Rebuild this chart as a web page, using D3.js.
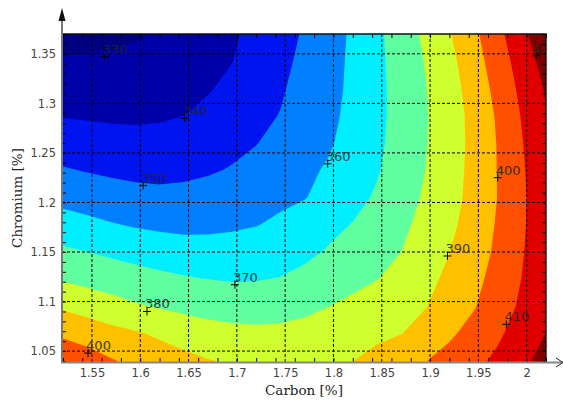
<!DOCTYPE html>
<html>
<head>
<meta charset="utf-8">
<script src="https://cdn.jsdelivr.net/npm/d3@7"></script>
<style>
    body { margin: 0; background: #fff; }
    .tick text { font-family: "DejaVu Sans", sans-serif; font-size: 11.5px; fill: #444; }
    .title { font-family: "DejaVu Serif", serif; font-size: 13.5px; fill: #222; }
    .clabel { font-family: "DejaVu Sans", sans-serif; font-size: 13px; fill: #222; opacity: 0.85; }
</style>
</head>
<body>
<div id="container"></div>
<script>
// grid of the response surface
const carbon = [1.52, 1.545, 1.57, 1.595, 1.62, 1.645, 1.67, 1.695, 1.72, 1.745, 1.77,
    1.795, 1.82, 1.845, 1.87, 1.895, 1.92, 1.945, 1.97, 1.995, 2.02];
const chromium = [1.04, 1.0675, 1.095, 1.1225, 1.15, 1.1775, 1.205, 1.2325, 1.26, 1.2875, 1.315, 1.3425, 1.37];

// one row per chromium value (bottom to top), one column per carbon value
const response = [
    [407.5, 404.8, 400.8, 397.7, 395.3, 392.9, 390.5, 389.0, 388.5, 388.3, 388.8, 389.4, 389.9, 392.9, 396.3, 399.7, 403.5, 407.5, 411.9, 417.5, 424.0],
    [398.4, 395.7, 393.0, 391.1, 388.5, 385.8, 383.6, 382.6, 382.1, 382.3, 383.2, 384.9, 386.5, 388.2, 389.8, 394.0, 398.5, 403.4, 408.5, 414.3, 420.2],
    [388.7, 386.3, 383.7, 381.1, 379.3, 377.8, 376.7, 376.0, 375.8, 376.3, 377.8, 379.9, 382.3, 384.7, 387.1, 389.6, 394.2, 399.3, 405.3, 411.6, 418.8],
    [379.2, 377.3, 375.5, 373.9, 372.4, 371.0, 370.0, 369.3, 369.6, 370.4, 372.6, 375.0, 377.4, 379.8, 383.5, 387.5, 391.9, 397.3, 403.4, 410.2, 418.0],
    [371.8, 370.1, 368.4, 366.7, 365.1, 364.0, 363.6, 363.8, 364.6, 365.9, 367.9, 370.9, 373.9, 377.0, 380.0, 384.9, 389.9, 395.6, 401.7, 409.2, 417.3],
    [364.1, 362.4, 360.6, 359.2, 358.2, 357.7, 358.0, 358.7, 359.7, 361.5, 364.2, 367.5, 370.4, 374.2, 378.1, 382.6, 387.9, 394.1, 400.9, 408.6, 417.0],
    [357.1, 355.7, 354.3, 353.1, 352.4, 352.6, 353.4, 354.6, 356.3, 358.3, 359.6, 363.0, 367.0, 371.2, 376.1, 381.1, 386.6, 392.9, 400.2, 408.3, 417.0],
    [350.8, 349.5, 348.4, 347.6, 347.4, 348.0, 349.1, 350.6, 352.9, 355.6, 358.2, 361.0, 365.1, 369.2, 374.4, 380.0, 386.0, 392.5, 400.3, 408.8, 417.5],
    [345.1, 344.1, 343.3, 342.7, 342.9, 344.0, 345.6, 347.7, 349.7, 353.0, 356.3, 359.0, 363.3, 368.2, 373.6, 379.4, 385.6, 392.3, 400.5, 409.5, 418.5],
    [339.5, 339.1, 338.7, 338.6, 339.0, 340.0, 342.1, 344.9, 347.9, 350.3, 354.7, 357.9, 362.4, 367.7, 373.4, 379.2, 385.5, 392.6, 401.2, 410.6, 419.5],
    [335.3, 335.2, 335.2, 335.4, 336.3, 337.8, 339.3, 342.2, 346.1, 349.0, 353.2, 357.1, 361.9, 367.6, 373.5, 379.6, 386.2, 393.8, 403.0, 412.3, 421.0],
    [331.0, 331.4, 331.7, 332.2, 333.5, 335.6, 337.7, 339.8, 344.2, 347.8, 352.0, 356.6, 361.7, 367.8, 374.0, 380.4, 387.4, 395.7, 405.0, 414.4, 424.0],
    [325.5, 326.7, 327.9, 329.1, 330.8, 333.4, 336.1, 338.8, 342.4, 346.6, 350.9, 356.0, 361.4, 368.0, 374.8, 381.8, 389.3, 397.8, 407.2, 417.4, 428.0]
];

const levels = [330, 340, 350, 360, 370, 380, 390, 400, 410, 420];
const bandColors = ["#000080", "#0000a8", "#0014f0", "#0080ff", "#00eeff", "#60ffa0",
    "#d0ff30", "#ffc000", "#ff5000", "#e00000", "#800000"];

// contour labels (level, position of the + marker)
const labelLevel = [330, 340, 350, 360, 370, 380, 390, 400, 400, 410, 420];
const labelCarbon = [1.563, 1.646, 1.603, 1.794, 1.698, 1.607, 1.918, 1.546, 1.970, 1.979, 2.010];
const labelChromium = [1.347, 1.285, 1.217, 1.239, 1.117, 1.090, 1.146, 1.048, 1.225, 1.077, 1.348];

const xTicks = [1.55, 1.6, 1.65, 1.7, 1.75, 1.8, 1.85, 1.9, 1.95, 2];
const yTicks = [1.05, 1.1, 1.15, 1.2, 1.25, 1.3, 1.35];

const width = 563, height = 402;
const plot = { left: 62, right: 546, top: 34, bottom: 362 };

const x = d3.scaleLinear().domain([1.519, 2.02]).range([plot.left, plot.right]);
const y = d3.scaleLinear().domain([1.039, 1.37]).range([plot.bottom, plot.top]);

const svg = d3.select("#container").append("svg")
    .attr("width", width)
    .attr("height", height);

svg.append("clipPath").attr("id", "plotclip")
    .append("rect")
    .attr("x", plot.left).attr("y", plot.top)
    .attr("width", plot.right - plot.left).attr("height", plot.bottom - plot.top);

const area = svg.append("g").attr("clip-path", "url(#plotclip)");

// filled contours
const nx = carbon.length, ny = chromium.length;
const bands = d3.contours().size([nx, ny]).thresholds(levels)(response.flat());

// grid cell centres sit at i + 0.5
const gx = d3.scaleLinear().domain([0.5, nx - 0.5]).range([x(carbon[0]), x(carbon[nx - 1])]);
const gy = d3.scaleLinear().domain([0.5, ny - 0.5]).range([y(chromium[0]), y(chromium[ny - 1])]);
const path = d3.geoPath(d3.geoTransform({
    point: function (px, py) { this.stream.point(gx(px), gy(py)); }
}));

area.append("rect")
    .attr("x", plot.left).attr("y", plot.top)
    .attr("width", plot.right - plot.left).attr("height", plot.bottom - plot.top)
    .attr("fill", bandColors[0]);

area.selectAll("path.band")
    .data(bands)
    .join("path")
    .attr("class", "band")
    .attr("d", path)
    .attr("fill", (d, i) => bandColors[i + 1]);

// dashed grid
area.selectAll("line.vgrid")
    .data(xTicks)
    .join("line")
    .attr("x1", d => x(d)).attr("x2", d => x(d))
    .attr("y1", plot.top).attr("y2", plot.bottom)
    .attr("stroke", "#000").attr("stroke-dasharray", "3,2");

area.selectAll("line.hgrid")
    .data(yTicks)
    .join("line")
    .attr("x1", plot.left).attr("x2", plot.right)
    .attr("y1", d => y(d)).attr("y2", d => y(d))
    .attr("stroke", "#000").attr("stroke-dasharray", "3,2");

// contour labels
const labels = area.selectAll("g.lab")
    .data(labelLevel)
    .join("g")
    .attr("transform", (d, i) => `translate(${x(labelCarbon[i])},${y(labelChromium[i])})`);

labels.append("path")
    .attr("d", "M-4,0H4M0,-4V4")
    .attr("stroke", "#000")
    .attr("stroke-width", 1);

labels.append("text")
    .attr("class", "clabel")
    .attr("x", -2).attr("y", -3)
    .text(d => d);

// frame: top and right edges
svg.append("path")
    .attr("d", `M${plot.left},${plot.top}H${plot.right}V${plot.bottom}`)
    .attr("fill", "none").attr("stroke", "#111").attr("stroke-width", 1.4);

// small inner ticks
const tickLen = 4;
svg.append("g").attr("transform", `translate(0,${plot.bottom})`)
    .call(d3.axisBottom(x).ticks(20).tickSize(-tickLen).tickFormat(""))
    .call(g => g.select(".domain").remove());
svg.append("g").attr("transform", `translate(0,${plot.top})`)
    .call(d3.axisTop(x).ticks(20).tickSize(-tickLen).tickFormat(""))
    .call(g => g.select(".domain").remove());
svg.append("g").attr("transform", `translate(${plot.left},0)`)
    .call(d3.axisLeft(y).ticks(33).tickSize(-tickLen).tickFormat(""))
    .call(g => g.select(".domain").remove());
svg.append("g").attr("transform", `translate(${plot.right},0)`)
    .call(d3.axisRight(y).ticks(33).tickSize(-tickLen).tickFormat(""))
    .call(g => g.select(".domain").remove());

// tick labels
svg.append("g").attr("transform", `translate(0,${plot.bottom})`)
    .call(d3.axisBottom(x).tickValues(xTicks).tickSize(0).tickPadding(7).tickFormat(d3.format("~g")))
    .call(g => g.select(".domain").remove());
svg.append("g").attr("transform", `translate(${plot.left},0)`)
    .call(d3.axisLeft(y).tickValues(yTicks).tickSize(0).tickPadding(6).tickFormat(d3.format("~g")))
    .call(g => g.select(".domain").remove());

// gray axis lines with arrows
svg.append("line")
    .attr("x1", plot.left).attr("x2", plot.left)
    .attr("y1", plot.bottom + 1).attr("y2", 14)
    .attr("stroke", "#777").attr("stroke-width", 2);
svg.append("path")
    .attr("d", `M${plot.left},8L${plot.left + 3.5},21L${plot.left - 3.5},21Z`)
    .attr("fill", "#111");

svg.append("line")
    .attr("x1", plot.left - 1).attr("x2", 562)
    .attr("y1", plot.bottom + 0.5).attr("y2", plot.bottom + 0.5)
    .attr("stroke", "#888").attr("stroke-width", 2);
svg.append("path")
    .attr("d", `M556,${plot.bottom - 4}L563,${plot.bottom + 0.5}L556,${plot.bottom + 5}`)
    .attr("fill", "none").attr("stroke", "#222").attr("stroke-width", 1);

// axis titles
svg.append("text")
    .attr("class", "title")
    .attr("x", (plot.left + plot.right) / 2)
    .attr("y", 395)
    .attr("text-anchor", "middle")
    .text("Carbon [%]");

svg.append("text")
    .attr("class", "title")
    .attr("transform", `translate(22,${(plot.top + plot.bottom) / 2}) rotate(-90)`)
    .attr("text-anchor", "middle")
    .text("Chromium [%]");
</script>
</body>
</html>
